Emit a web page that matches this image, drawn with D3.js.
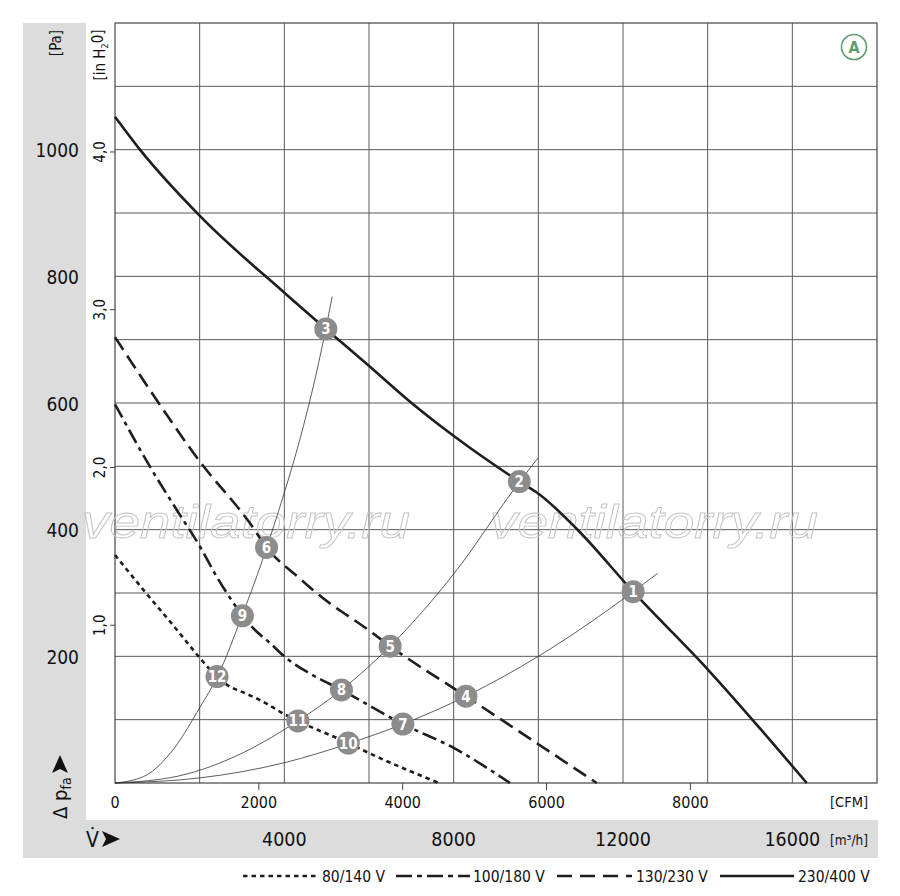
<!DOCTYPE html>
<html><head><meta charset="utf-8">
<script src="https://cdn.jsdelivr.net/npm/d3@7/dist/d3.min.js"></script>
<style>body{margin:0;background:#fff}</style>
</head><body>
<svg id="c" width="900" height="896"></svg>
<script>
// ---- data (m³/h, Pa) ----
const curve80_140  = [[0,360],[670,305],[1460,242],[2010,197],[2400,168],[2720,152],[3030,143],[3420,131],[4050,107],[4320,98],[5510,63],[6010,47],[7650,0]];
const curve100_180 = [[0,598],[830,499],[1460,431],[2010,373],[2400,326],[2800,284],[3020,263],[3270,244],[3660,221],[4050,197],[4600,173],[5350,147],[6800,93],[8010,55],[9330,0]];
const curve130_230 = [[0,704],[830,620],[2010,507],[3190,410],[3580,372],[4400,321],[4760,300],[6020,240],[6500,216],[8290,137],[9960,63],[11380,0]];
const curve230_400 = [[0,1052],[590,1000],[2010,895],[4020,773],[4980,717],[6010,658],[6970,602],[8020,547],[9550,476],[10020,456],[10910,401],[12240,302],[14020,178],[16340,0]];
const sysA = [[0,0],[670,10],[1400,55],[2010,120],[2420,168],[3000,264],[3580,371],[4980,717],[5130,768]];
const sysB = [[0,0],[1500,11],[3000,47],[4320,98],[5350,147],[6500,216],[8000,330],[9550,475],[9990,513]];
const sysC = [[0,0],[2000,8],[4000,32],[5510,62],[6800,93],[8290,137],[10000,200],[12240,302],[12820,331]];
const points = [
  {n:1,q:12240,p:302},{n:2,q:9550,p:476},{n:3,q:4980,p:717},{n:4,q:8290,p:137},
  {n:5,q:6500,p:216},{n:6,q:3580,p:372},{n:7,q:6800,p:93},{n:8,q:5350,p:147},
  {n:9,q:3010,p:264},{n:10,q:5510,p:63},{n:11,q:4320,p:98},{n:12,q:2410,p:168}];
const paTicks = [200,400,600,800,1000];
const inh2oTicks = [1,2,3,4];
const inh2oLabels = ["1,0","2,0","3,0","4,0"];
const cfmTicks = [0,2000,4000,6000,8000];
const m3hTicks = [4000,8000,12000,16000];
const legendNames = ["80/140 V","100/180 V","130/230 V","230/400 V"];

const FONT = "'Liberation Sans Narrow','DejaVu Sans Condensed','Roboto Condensed','Liberation Sans',Arial,sans-serif";
const svg = d3.select("#c");
const L=115, R=877, T=23, B=783;
const x = d3.scaleLinear().domain([0,18000]).range([L,R]);
const y = d3.scaleLinear().domain([0,1200]).range([B,T]);
const xc = d3.scaleLinear().domain([0,18000/1.699]).range([L,R]);
const yi = d3.scaleLinear().domain([0,1200/249.09]).range([B,T]);

// gray bands
svg.append("rect").attr("x",23).attr("y",23).attr("width",63).attr("height",835).attr("fill","#dcdcdd");
svg.append("rect").attr("x",23).attr("y",820).attr("width",855).attr("height",38).attr("fill","#dcdcdd");
svg.append("rect").attr("x",86).attr("y",23).attr("width",792).attr("height",797).attr("fill","#fff");

// grid
const g = svg.append("g");
g.selectAll("line.v").data(d3.range(2000,18000,2000)).join("line")
  .attr("x1",d=>x(d)).attr("x2",d=>x(d)).attr("y1",T).attr("y2",B)
  .attr("stroke","#5a5a5a").attr("stroke-width",1);
g.selectAll("line.h").data(d3.range(100,1200,100)).join("line")
  .attr("y1",d=>y(d)).attr("y2",d=>y(d)).attr("x1",L).attr("x2",R)
  .attr("stroke","#5a5a5a").attr("stroke-width",1);
g.append("rect").attr("x",L).attr("y",T).attr("width",R-L).attr("height",B-T)
  .attr("fill","none").attr("stroke","#444").attr("stroke-width",1.2);

// watermark
[[82,410],[490,818]].forEach(([a,b])=>{
  svg.append("text").attr("x",a).attr("y",538).attr("textLength",b-a).attr("lengthAdjust","spacingAndGlyphs")
    .attr("font-family","'Liberation Sans',Arial,sans-serif").attr("font-style","italic").attr("font-size",47)
    .attr("fill","none").attr("stroke","#c4c4c4").attr("stroke-width",0.9).text("ventilatorry.ru");
});

// system curves
const line = d3.line().x(d=>x(d[0])).y(d=>y(d[1])).curve(d3.curveMonotoneX);
[sysA,sysB,sysC].forEach(s=>{
  svg.append("path").attr("d",line(s)).attr("fill","none").attr("stroke","#333").attr("stroke-width",0.8);
});

// fan curves
const styles = [
  {d:curve80_140, dash:"4.5,4"},
  {d:curve100_180, dash:"15,5,4,5"},
  {d:curve130_230, dash:"15,7"},
  {d:curve230_400, dash:null}
];
styles.forEach(s=>{
  const p = svg.append("path").attr("d",line(s.d)).attr("fill","none").attr("stroke","#1e1e1e").attr("stroke-width",2.6);
  if(s.dash) p.attr("stroke-dasharray",s.dash);
});

// operating points
const pg = svg.selectAll("g.pt").data(points).join("g").attr("transform",d=>`translate(${x(d.q)},${y(d.p)})`);
pg.append("circle").attr("r",11.5).attr("fill","#8c8c8c");
pg.append("text").attr("text-anchor","middle").attr("dy","0.36em").attr("fill","#fff")
  .attr("font-family",FONT).attr("font-weight","bold").attr("font-size",15).text(d=>d.n);

// Pa axis labels
svg.selectAll("text.pa").data(paTicks).join("text").attr("x",79).attr("y",d=>y(d)).attr("dy","0.4em")
  .attr("text-anchor","end").attr("font-family",FONT).attr("font-size",19).attr("fill","#111").text(d=>d);
svg.append("text").attr("transform","translate(56,43) rotate(-90)").attr("text-anchor","middle").attr("dy","0.35em")
  .attr("font-family",FONT).attr("font-size",15).attr("fill","#111").text("[Pa]");

// in H2O axis
svg.selectAll("line.it").data(inh2oTicks).join("line").attr("x1",L-5).attr("x2",L).attr("y1",d=>yi(d)).attr("y2",d=>yi(d))
  .attr("stroke","#444");
svg.selectAll("text.it").data(inh2oTicks).join("text")
  .attr("transform",d=>`translate(100,${yi(d)}) rotate(-90)`).attr("text-anchor","middle").attr("dy","0.35em")
  .attr("font-family",FONT).attr("font-size",15).attr("fill","#111").text((d,i)=>inh2oLabels[i]);
const ih = svg.append("text").attr("transform","translate(100,55) rotate(-90)").attr("text-anchor","middle").attr("dy","0.35em")
  .attr("font-family",FONT).attr("font-size",15).attr("fill","#111");
ih.append("tspan").text("[in H");
ih.append("tspan").attr("font-size",9).attr("dy","0.35em").text("2");
ih.append("tspan").attr("dy","-0.35em").text("0]");

// CFM axis
svg.selectAll("line.ct").data(cfmTicks.filter(d=>d>0)).join("line").attr("x1",d=>xc(d)).attr("x2",d=>xc(d)).attr("y1",B).attr("y2",B+7)
  .attr("stroke","#444");
svg.selectAll("text.ct").data(cfmTicks).join("text").attr("x",d=>xc(d)).attr("y",802).attr("dy","0.36em")
  .attr("text-anchor","middle").attr("font-family",FONT).attr("font-size",16).attr("fill","#111").text(d=>d);
svg.append("text").attr("x",868).attr("y",802).attr("dy","0.36em").attr("text-anchor","end")
  .attr("font-family",FONT).attr("font-size",14.5).attr("fill","#111").text("[CFM]");

// m3/h axis
svg.selectAll("text.mt").data(m3hTicks).join("text").attr("x",d=>x(d)).attr("y",839).attr("dy","0.36em")
  .attr("text-anchor","middle").attr("font-family",FONT).attr("font-size",19.5).attr("fill","#111").text(d=>d);
svg.append("text").attr("x",868).attr("y",840).attr("dy","0.36em").attr("text-anchor","end")
  .attr("font-family",FONT).attr("font-size",13.5).attr("fill","#111").text("[m³/h]");

// axis titles
svg.append("text").attr("x",86).attr("y",839).attr("dy","0.36em").attr("font-family",FONT).attr("font-size",21)
  .attr("fill","#111").text("V\u0307");
svg.append("path").attr("d","M102,831 L120,839 L102,847 L106,839 Z").attr("fill","#111");
const dp = svg.append("text").attr("transform","translate(60,819) rotate(-90)").attr("dy","0.36em")
  .attr("font-family",FONT).attr("font-size",20).attr("fill","#111");
dp.append("tspan").text("\u0394 p");
dp.append("tspan").attr("font-size",14).attr("dy","0.3em").text("fa");
svg.append("path").attr("d","M52,773 L60,755 L68,773 L60,769 Z").attr("fill","#111");

// badge A
svg.append("circle").attr("cx",854).attr("cy",47).attr("r",12.5).attr("fill","none").attr("stroke","#5e9e6e").attr("stroke-width",1.6);
svg.append("text").attr("x",854).attr("y",47).attr("dy","0.36em").attr("text-anchor","middle")
  .attr("font-family",FONT).attr("font-weight","bold").attr("font-size",16).attr("fill","#5e9e6e").text("A");

// legend
const lg = [
  {x0:243,x1:318,tx:322,dash:"4.5,4"},
  {x0:396,x1:470,tx:473,dash:"16,5,5,5"},
  {x0:557,x1:632,tx:636,dash:"15,8"},
  {x0:720,x1:794,tx:798,dash:null}];
lg.forEach((l,i)=>{
  const ln = svg.append("line").attr("x1",l.x0).attr("x2",l.x1).attr("y1",876).attr("y2",876)
    .attr("stroke","#1e1e1e").attr("stroke-width",2.4);
  if(l.dash) ln.attr("stroke-dasharray",l.dash);
  svg.append("text").attr("x",l.tx).attr("y",876).attr("dy","0.36em").attr("font-family",FONT).attr("font-size",15.5)
    .attr("fill","#111").text(legendNames[i]);
});
</script>
</body></html>
